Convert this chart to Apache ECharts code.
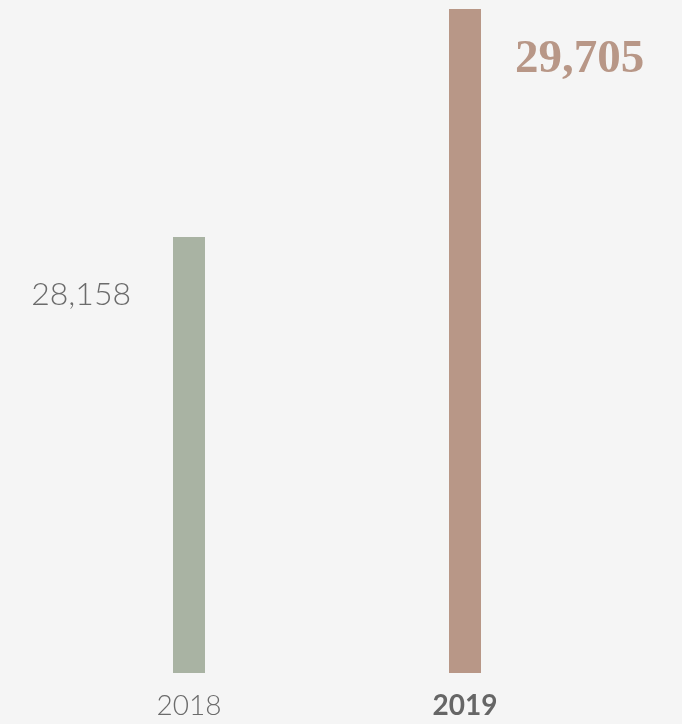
<!DOCTYPE html>
<html>
<head>
<meta charset="utf-8">
<script src="https://cdn.jsdelivr.net/npm/echarts@6/dist/echarts.min.js"></script>
<style>
  html, body { margin: 0; padding: 0; background: #f5f5f5; }
  #chart { width: 682px; height: 724px; }
</style>
</head>
<body>
<div id="chart"></div>
<script>
  // data
  var years = ['2018', '2019'];
  var visitors = [28158, 29705];
  var barColors = ['#a9b3a3', '#b89787'];

  var chart = echarts.init(document.getElementById('chart'));

  var seriesData = visitors.map(function (v, i) {
    var item = { value: v, itemStyle: { color: barColors[i] } };
    if (i === 0) {
      item.label = {
        show: true,
        position: [-42, 58],
        align: 'right',
        verticalAlign: 'middle',
        fontFamily: 'Lato',
        fontWeight: 300,
        fontSize: 32,
        color: '#6b6b6b'
      };
    } else {
      item.label = {
        show: true,
        position: [66, 51],
        align: 'left',
        verticalAlign: 'middle',
        fontFamily: 'Liberation Serif',
        fontWeight: 'bold',
        fontSize: 47,
        color: '#b89787'
      };
    }
    return item;
  });

  chart.setOption({
    backgroundColor: '#f5f5f5',
    animation: false,
    grid: { left: 51, right: 79, top: 9, bottom: 51 },
    xAxis: {
      type: 'category',
      data: years,
      axisLine: { show: false },
      axisTick: { show: false },
      axisLabel: {
        margin: 19,
        formatter: function (v) {
          return v === '2019' ? '{b|' + v + '}' : '{a|' + v + '}';
        },
        rich: {
          a: { fontFamily: 'Lato', fontWeight: 300, fontSize: 28, color: '#6b6b6b' },
          b: { fontFamily: 'Lato', fontWeight: 'bold', fontSize: 28, color: '#666666' }
        }
      }
    },
    yAxis: {
      type: 'value',
      show: false,
      min: 25200,
      max: 29705,
      splitLine: { show: false }
    },
    series: [{
      type: 'bar',
      barWidth: 32,
      data: seriesData,
      label: {
        formatter: function (p) { return p.value.toLocaleString('en-US'); }
      }
    }]
  });
</script>
</body>
</html>
